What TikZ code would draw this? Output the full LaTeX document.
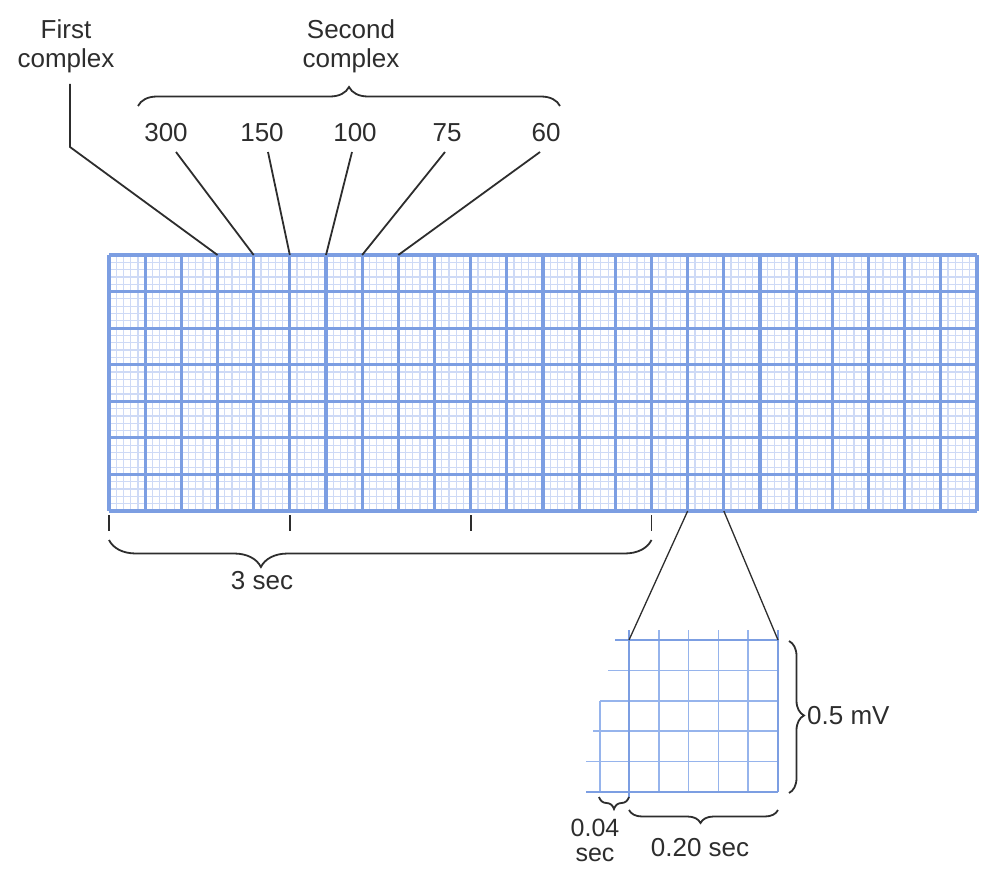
\documentclass[tikz,border=0pt]{standalone}
\usepackage{fontspec}
\setmainfont{Liberation Sans}
\usetikzlibrary{decorations.pathreplacing}
\definecolor{minorblue}{RGB}{206,218,246}
\definecolor{majorblue}{RGB}{124,158,226}
\definecolor{insetblue}{RGB}{150,180,236}
\definecolor{ink}{RGB}{45,45,45}
\begin{document}
\begin{tikzpicture}[x=1pt,y=-1pt,
  lbl/.style={font=\fontsize{26}{29}\selectfont, text=ink, inner sep=0pt, align=center},
  conn/.style={draw=ink, line width=1.8pt},
  thinconn/.style={draw=ink, line width=1.3pt},
  minorline/.style={draw=minorblue, line width=1.2pt},
  majorline/.style={draw=majorblue, line width=3.2pt},
  insetinner/.style={draw=insetblue, line width=1.6pt},
  insetedge/.style={draw=majorblue, line width=2.6pt},
  brc/.style={decorate, draw=ink, line width=1.8pt}]
\useasboundingbox (0,0) rectangle (988,872);

% ---- main grid ----
\foreach \i in {0,...,120} \draw[minorline] ({109+\i*7.233333},255) -- ({109+\i*7.233333},511);
\foreach \j in {0,...,35} \draw[minorline] (109,{255+\j*7.314286}) -- (977,{255+\j*7.314286});
\foreach \i in {0,...,24} \draw[majorline] ({109+\i*36.166667},255) -- ({109+\i*36.166667},511);
\foreach \j in {0,...,7} \draw[majorline] (109,{255+\j*36.571429}) -- (977,{255+\j*36.571429});

\foreach \i in {3,...,8} \coordinate (t\i) at ({109+\i*36.166667},255);
\coordinate (b16) at ({109+16*36.166667},511);
\coordinate (b17) at ({109+17*36.166667},511);

% ---- top labels ----
\node[lbl] (first) at (66,46) {First\\complex};
\node[lbl] (second) at (351,46) {Second\\complex};
\node[lbl] (n300) at (166,133) {300};
\node[lbl] (n150) at (262,133) {150};
\node[lbl] (n100) at (355,133) {100};
\node[lbl] (n75) at (447,133) {75};
\node[lbl] (n60) at (546,133) {60};

\coordinate (fa) at (70,84);
\coordinate (fb) at (70,147);
\coordinate (s300) at (176,152);
\coordinate (s150) at (268,152);
\coordinate (s100) at (352,152);
\coordinate (s75) at (445,152);
\coordinate (s60) at (540,152);
\draw[conn] (fa) -- (fb) -- (t3);
\draw[conn] (s300) -- (t4);
\draw[conn] (s150) -- (t5);
\draw[conn] (s100) -- (t6);
\draw[conn] (s75) -- (t7);
\draw[conn] (s60) -- (t8);

\coordinate (bl) at (138,106);
\coordinate (br) at (560,106);
\draw[brc, decoration={brace, amplitude=19pt, aspect=0.5}] (bl) -- (br);

% ---- ticks and 3 sec ----
\foreach \i in {0,5,10,15} {
  \coordinate (ka\i) at ({109+\i*36.166667},515);
  \coordinate (kb\i) at ({109+\i*36.166667},531);
  \draw[conn] (ka\i) -- (kb\i);
}
\coordinate (tbl) at (109,540);
\coordinate (tbr) at ({109+15*36.166667},540);
\draw[brc, decoration={brace, mirror, amplitude=27pt, aspect=0.28}] (tbl) -- (tbr);
\node[lbl] (three) at (262,581) {3 sec};

% ---- inset ----
\coordinate (iTL) at (629,640);
\coordinate (iTR) at (778,640);
\foreach \k in {1,...,4} \draw[insetinner] ({629+\k*29.8},630) -- ({629+\k*29.8},792);
\foreach \k/\s in {1/608,2/600,3/593,4/586} \draw[insetinner] (\s,{640+\k*30.4}) -- (778,{640+\k*30.4});
\draw[insetinner] (600,701) -- (600,792);
\draw[insetedge] (615,640) -- (778,640);
\draw[insetedge] (586,792) -- (778,792);
\draw[insetedge] (629,630) -- (629,798);
\draw[insetedge] (778,630) -- (778,792);

\draw[thinconn] (b16) -- (iTL);
\draw[thinconn] (b17) -- (iTR);

% ---- inset braces ----
\coordinate (ra) at (789,641);
\coordinate (rb) at (789,793);
\draw[brc, decoration={brace, amplitude=15pt, aspect=0.49}] (ra) -- (rb);
\node[lbl, anchor=west] (mv) at (807,716) {0.5 mV};

\coordinate (sa) at (599,797);
\coordinate (sb) at (629,797);
\draw[brc, decoration={brace, mirror, amplitude=12pt}] (sa) -- (sb);
\node[lbl, font=\fontsize{25}{25}\selectfont] (small) at (595,840) {0.04\\sec};

\coordinate (ba) at (629,810);
\coordinate (bb) at (778,810);
\draw[brc, decoration={brace, mirror, amplitude=13pt, aspect=0.48}] (ba) -- (bb);
\node[lbl] (big) at (700,848) {0.20 sec};
\end{tikzpicture}
\end{document}
